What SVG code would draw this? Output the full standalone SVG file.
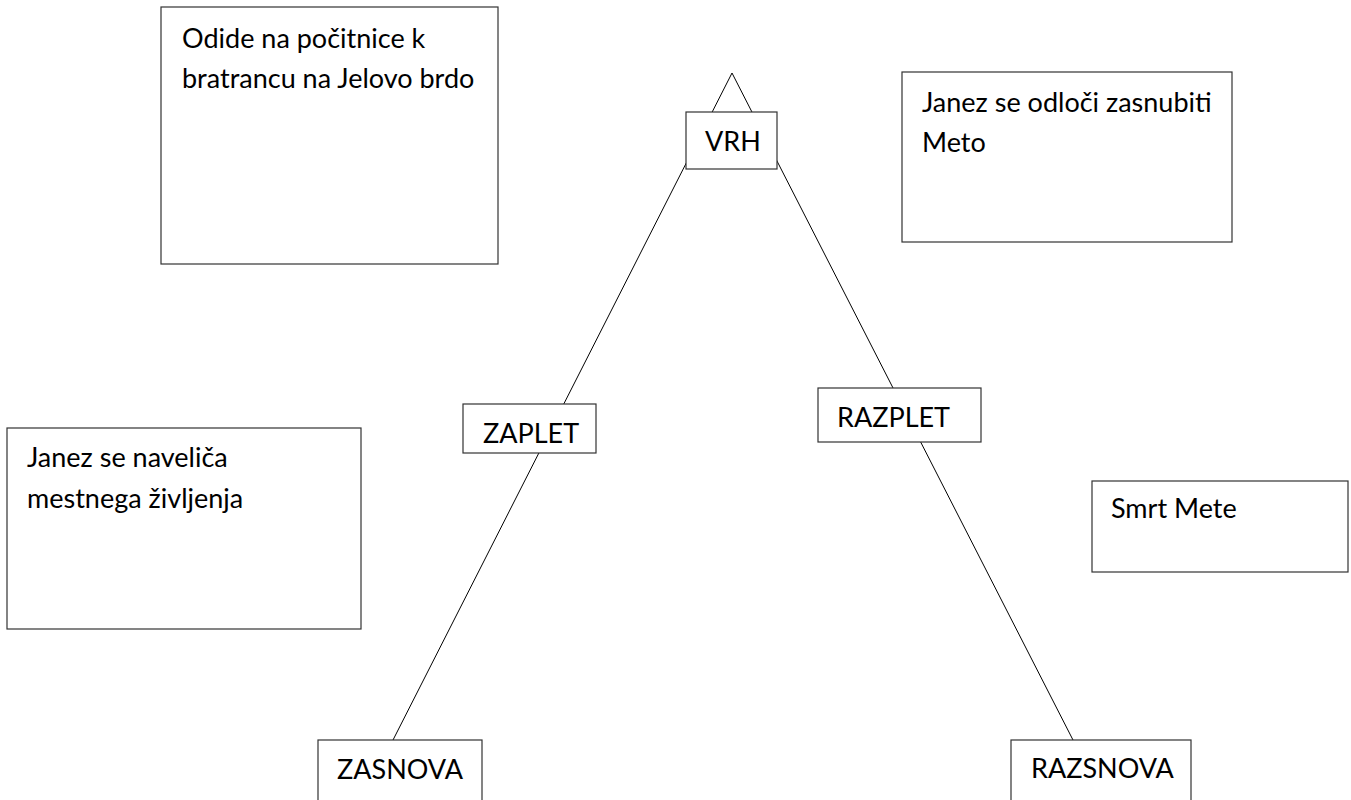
<svg xmlns="http://www.w3.org/2000/svg" width="1351" height="800" viewBox="0 0 1351 800">
<style>
.box{fill:#ffffff;stroke:#333333;stroke-width:1.2}
.t{font-family:Lato,"Carlito","Liberation Sans",sans-serif;font-size:27px;fill:#000000}
.ln{stroke:#000000;stroke-width:1;fill:none}
</style>
<rect x="0" y="0" width="1351" height="800" fill="#ffffff"/>
<g id="connectors">
<line class="ln" x1="732" y1="73" x2="393" y2="740"/>
<line class="ln" x1="732" y1="73" x2="1073" y2="740"/>
</g>
<g id="node-odide">
<rect class="box" x="161" y="7" width="337" height="257"/>
<text class="t" x="182" y="48">Odide na počitnice k</text>
<text class="t" x="182" y="88">bratrancu na Jelovo brdo</text>
</g>
<g id="node-vrh">
<rect class="box" x="686" y="112" width="91" height="57"/>
<text class="t" x="705" y="151">VRH</text>
</g>
<g id="node-zasnubiti">
<rect class="box" x="902" y="72" width="330" height="170"/>
<text class="t" x="922" y="112">Janez se odloči zasnubiti</text>
<text class="t" x="922" y="152">Meto</text>
</g>
<g id="node-zaplet">
<rect class="box" x="463" y="404" width="133" height="49"/>
<text class="t" x="483" y="443">ZAPLET</text>
</g>
<g id="node-razplet">
<rect class="box" x="818" y="388" width="163" height="54"/>
<text class="t" x="837" y="427">RAZPLET</text>
</g>
<g id="node-navelica">
<rect class="box" x="7" y="428" width="354" height="201"/>
<text class="t" x="27" y="467">Janez se naveliča</text>
<text class="t" x="27" y="508">mestnega življenja</text>
</g>
<g id="node-smrt">
<rect class="box" x="1092" y="481" width="256" height="91"/>
<text class="t" x="1111" y="518">Smrt Mete</text>
</g>
<g id="node-zasnova">
<rect class="box" x="318" y="740" width="164" height="70"/>
<text class="t" x="337" y="779">ZASNOVA</text>
</g>
<g id="node-razsnova">
<rect class="box" x="1011" y="740" width="180" height="70"/>
<text class="t" x="1031" y="778">RAZSNOVA</text>
</g>
</svg>
